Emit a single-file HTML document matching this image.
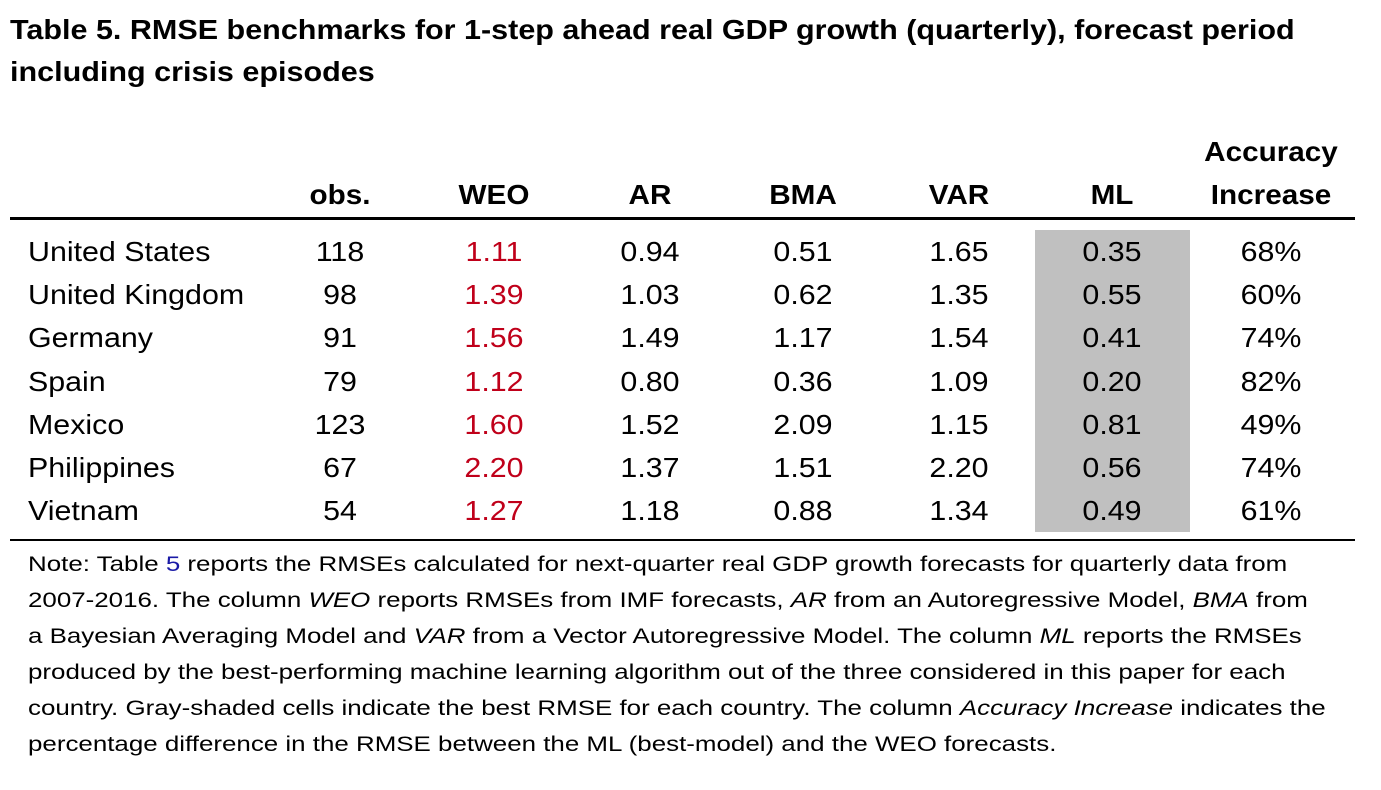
<!DOCTYPE html>
<html><head><meta charset="utf-8"><style>
body{margin:0;width:1381px;height:790px;background:#fff;font-family:"Liberation Sans",Arial,sans-serif;color:#000;position:relative;overflow:hidden}
.a{position:absolute;white-space:nowrap}
.t{font-weight:bold;font-size:27.5px;left:10px;transform:scaleX(1.11);transform-origin:0 0}
.h{font-weight:bold;font-size:28px;transform:translateX(-50%) scaleX(1.06)}
.c{font-size:28px;transform:translateX(-50%) scaleX(1.085)}
.cl{font-size:28px;transform:scaleX(1.085);transform-origin:0 0}
.r{color:#c0001a}
.rule{position:absolute;left:10px;width:1345px;background:#000}
.note{font-size:21.6px;left:28px;line-height:36px;top:546px;transform:scaleX(1.2);transform-origin:0 0}
</style></head><body>
<div class="a t" style="top:14px">Table 5. RMSE benchmarks for 1-step ahead real GDP growth (quarterly), forecast period</div>
<div class="a t" style="top:56px">including crisis episodes</div>
<div class="a" style="left:1035px;top:230px;width:155px;height:302px;background:#c0c0c0"></div>
<div class="rule" style="top:217px;height:3px"></div>
<div class="rule" style="top:539px;height:2px"></div>
<div id="tbl"></div>
<div class="a note">Note: Table <span style="color:#1a1aa6">5</span> reports the RMSEs calculated for next-quarter real GDP growth forecasts for quarterly data from<br>2007-2016. The column <i>WEO</i> reports RMSEs from IMF forecasts, <i>AR</i> from an Autoregressive Model, <i>BMA</i> from<br>a Bayesian Averaging Model and <i>VAR</i> from a Vector Autoregressive Model. The column <i>ML</i> reports the RMSEs<br>produced by the best-performing machine learning algorithm out of the three considered in this paper for each<br>country. Gray-shaded cells indicate the best RMSE for each country. The column <i>Accuracy Increase</i> indicates the<br>percentage difference in the RMSE between the ML (best-model) and the WEO forecasts.</div>
<script>
const countries=["United States","United Kingdom","Germany","Spain","Mexico","Philippines","Vietnam"];
const obs=["118","98","91","79","123","67","54"];
const weo=["1.11","1.39","1.56","1.12","1.60","2.20","1.27"];
const ar=["0.94","1.03","1.49","0.80","1.52","1.37","1.18"];
const bma=["0.51","0.62","1.17","0.36","2.09","1.51","0.88"];
const vr=["1.65","1.35","1.54","1.09","1.15","2.20","1.34"];
const ml=["0.35","0.55","0.41","0.20","0.81","0.56","0.49"];
const acc=["68%","60%","74%","82%","49%","74%","61%"];
const headers=["obs.","WEO","AR","BMA","VAR","ML"];
const cols=[obs,weo,ar,bma,vr,ml,acc];
const cx=[340,494,650,803,959,1112,1271];
const root=document.getElementById('tbl');
function mk(txt,cls,left,top){const d=document.createElement('div');d.className='a '+cls;d.textContent=txt;d.style.left=left+'px';d.style.top=top+'px';root.appendChild(d);return d;}
headers.forEach((h,i)=>{const d=mk(h,'h',cx[i],179);

});
let d1=mk('Accuracy','h',cx[6],136);


let d2=mk('Increase','h',cx[6],179);


countries.forEach((c,r)=>{const y=236+r*43.2;
const n=mk(c,'cl',28,y);


cols.forEach((col,i)=>{const d=mk(col[r],'c'+(i==1?' r':''),cx[i],y);

});});
</script>
</body></html>
